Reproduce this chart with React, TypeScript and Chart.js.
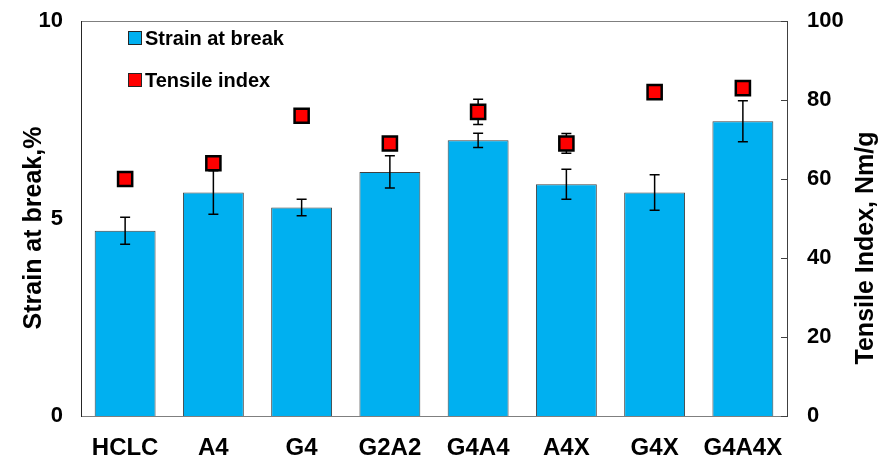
import React, { useEffect, useRef } from "react";
import { Chart, registerables } from "chart.js";

Chart.register(...registerables);

const categories = ["HCLC", "A4", "G4", "G2A2", "G4A4", "A4X", "G4X", "G4A4X"];
const strainAtBreak = [4.69, 5.66, 5.28, 6.18, 6.98, 5.87, 5.66, 7.46];
const strainErr = [0.34, 0.55, 0.21, 0.41, 0.18, 0.38, 0.45, 0.52];
const tensileIndex = [60, 64, 76, 69, 77, 69, 82, 83];
const tensileErr = [1.5, 1.5, 1.5, 1.5, 3.2, 2.5, 1.5, 1.5];
const leftTicks = [0, 5, 10];
const rightTicks = [0, 20, 40, 60, 80, 100];

const FONT = '"Liberation Sans", Arial, sans-serif';
const BAR_COLOR = "#00B0F0";
const MARK_COLOR = "#FF0000";

function drawErrors(chart: any, dsIndex: number, values: number[], errs: number[], scaleId: string) {
  const { ctx } = chart;
  const meta = chart.getDatasetMeta(dsIndex);
  const scale = chart.scales[scaleId];
  ctx.save();
  ctx.strokeStyle = "#000000";
  ctx.lineWidth = 1.5;
  meta.data.forEach((el: any, i: number) => {
    const x = el.x;
    const yTop = scale.getPixelForValue(values[i] + errs[i]);
    const yBot = scale.getPixelForValue(values[i] - errs[i]);
    ctx.beginPath();
    ctx.moveTo(x, yTop);
    ctx.lineTo(x, yBot);
    ctx.moveTo(x - 5, yTop);
    ctx.lineTo(x + 5, yTop);
    ctx.moveTo(x - 5, yBot);
    ctx.lineTo(x + 5, yBot);
    ctx.stroke();
  });
  ctx.restore();
}

const overlay = {
  id: "overlay",
  afterDatasetDraw(chart: any, args: any) {
    if (args.index === 0) drawErrors(chart, 0, strainAtBreak, strainErr, "y");
  },
  beforeDatasetDraw(chart: any, args: any) {
    if (args.index === 1) drawErrors(chart, 1, tensileIndex, tensileErr, "y2");
  },
  afterDraw(chart: any) {
    const { ctx, chartArea } = chart;
    const { left, right, top, bottom } = chartArea;
    ctx.save();
    // frame
    ctx.lineWidth = 1;
    ctx.strokeStyle = "#7f7f7f";
    ctx.beginPath();
    ctx.moveTo(left, top + 0.5);
    ctx.lineTo(right, top + 0.5);
    ctx.moveTo(left, bottom + 0.5);
    ctx.lineTo(right, bottom + 0.5);
    ctx.stroke();
    ctx.strokeStyle = "#262626";
    ctx.beginPath();
    ctx.moveTo(left + 0.5, top);
    ctx.lineTo(left + 0.5, bottom + 1);
    ctx.stroke();
    ctx.strokeStyle = "#404040";
    ctx.beginPath();
    ctx.moveTo(right + 0.5, top);
    ctx.lineTo(right + 0.5, bottom + 1);
    const y2 = chart.scales.y2;
    rightTicks.forEach((v) => {
      const y = Math.round(y2.getPixelForValue(v)) + 0.5;
      ctx.moveTo(right - 6, y);
      ctx.lineTo(right, y);
    });
    ctx.stroke();

    // axis titles
    ctx.fillStyle = "#000000";
    ctx.font = `bold 25px ${FONT}`;
    ctx.textAlign = "center";
    ctx.textBaseline = "middle";
    ctx.save();
    ctx.translate(34, 228);
    ctx.rotate(-Math.PI / 2);
    ctx.fillText("Strain at break,%", 0, 0);
    ctx.restore();
    ctx.save();
    ctx.translate(866, 248);
    ctx.rotate(-Math.PI / 2);
    ctx.fillText("Tensile Index, Nm/g", 0, 0);
    ctx.restore();

    // legend
    const items = [
      { label: "Strain at break", color: BAR_COLOR, y: 38 },
      { label: "Tensile index", color: MARK_COLOR, y: 80 },
    ];
    ctx.font = `bold 20px ${FONT}`;
    ctx.textAlign = "left";
    items.forEach((it) => {
      ctx.fillStyle = it.color;
      ctx.fillRect(128.5, it.y - 6.5, 13, 13);
      ctx.strokeStyle = "#262626";
      ctx.lineWidth = 1;
      ctx.strokeRect(128.5, it.y - 6.5, 13, 13);
      ctx.fillStyle = "#000000";
      ctx.fillText(it.label, 145, it.y + 1);
    });
    ctx.restore();
  },
};

export default function App() {
  const ref = useRef<HTMLCanvasElement>(null);
  useEffect(() => {
    if (!ref.current) return;
    const chart = new Chart(ref.current, {
      data: {
        labels: categories,
        datasets: [
          {
            type: "bar",
            label: "Strain at break",
            data: strainAtBreak,
            backgroundColor: BAR_COLOR,
            borderColor: "#404040",
            borderWidth: 1,
            yAxisID: "y",
            order: 2,
            categoryPercentage: 1,
            barPercentage: 0.69,
          },
          {
            type: "line",
            label: "Tensile index",
            data: tensileIndex,
            showLine: false,
            yAxisID: "y2",
            order: 1,
            pointStyle: "rect",
            pointRadius: 10,
            pointHoverRadius: 10,
            pointBackgroundColor: MARK_COLOR,
            pointBorderColor: "#000000",
            pointBorderWidth: 2.5,
          },
        ],
      } as any,
      options: {
        responsive: false,
        animation: false,
        events: [],
        layout: { padding: { top: 21, left: 0, right: 0, bottom: 0 } },
        plugins: { legend: { display: false }, tooltip: { enabled: false } },
        scales: {
          x: {
            grid: { display: false },
            border: { display: false },
            ticks: {
              color: "#000",
              font: { family: FONT, size: 24, weight: "bold" },
              padding: 10,
              maxRotation: 0,
              autoSkip: false,
            },
            afterFit: (s: any) => {
              s.height = 43;
              s.paddingLeft = 0;
              s.paddingRight = 0;
            },
          },
          y: {
            position: "left",
            min: 0,
            max: 10,
            afterBuildTicks: (s: any) => {
              s.ticks = leftTicks.map((v) => ({ value: v }));
            },
            grid: { display: false, drawTicks: false },
            border: { display: false },
            ticks: {
              color: "#000",
              font: { family: FONT, size: 22, weight: "bold" },
              padding: 18,
            },
            afterFit: (s: any) => {
              s.width = 81;
              s.paddingTop = 0;
              s.paddingBottom = 0;
            },
          },
          y2: {
            position: "right",
            min: 0,
            max: 100,
            afterBuildTicks: (s: any) => {
              s.ticks = rightTicks.map((v) => ({ value: v }));
            },
            grid: { display: false, drawTicks: false },
            border: { display: false },
            ticks: {
              color: "#000",
              font: { family: FONT, size: 22, weight: "bold" },
              padding: 20,
            },
            afterFit: (s: any) => {
              s.width = 93;
              s.paddingTop = 0;
              s.paddingBottom = 0;
            },
          },
        },
      } as any,
      plugins: [overlay],
    });
    return () => chart.destroy();
  }, []);
  return (
    <div style={{ position: "absolute", left: 0, top: 0, width: 880, height: 459, background: "#fff" }}>
      <canvas ref={ref} width={880} height={459} style={{ display: "block" }} />
    </div>
  );
}
